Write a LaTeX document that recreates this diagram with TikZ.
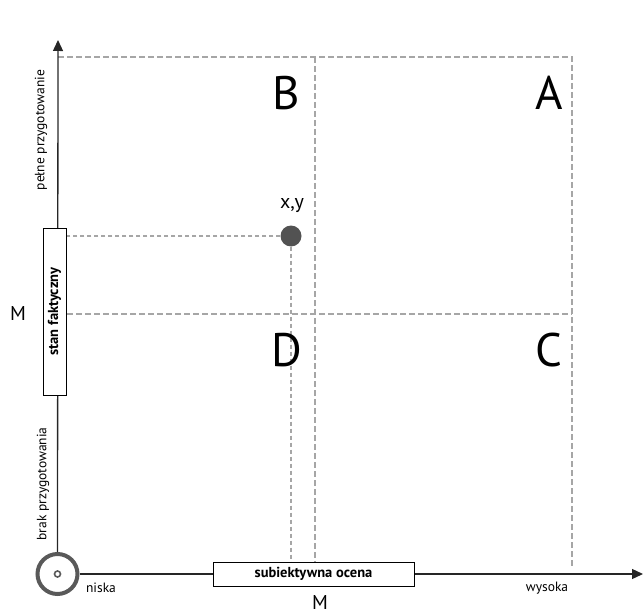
\documentclass[tikz,border=0pt]{standalone}
\usepackage{fontspec}
\setmainfont{PT Sans}
\usetikzlibrary{arrows.meta}
\begin{document}
\begin{tikzpicture}[x=1pt,y=-1pt,
  axis/.style={line width=1.3pt,draw=black!85,-{Triangle[length=11pt,width=10pt]}},
  grid/.style={draw=black!35,line width=1.4pt,dash pattern=on 6pt off 3pt},
  quad/.style={font=\fontsize{47}{50}\selectfont},
  small/.style={font=\fontsize{13.5}{15}\selectfont},
  boxlab/.style={draw=black,line width=1pt,fill=white,font=\fontsize{14.5}{16}\selectfont\bfseries,inner sep=0pt},
  mlab/.style={font=\fontsize{20}{22}\selectfont}]
\useasboundingbox (0,0) rectangle (643,615);
% grid
\coordinate (tl) at (58,57);
\coordinate (tr) at (572,57);
\coordinate (tm) at (315,57);
\coordinate (ml) at (58,314);
\coordinate (mr) at (572,314);
\coordinate (bm) at (315,566);
\coordinate (br) at (572,566);
\draw[grid] (tl) -- (tr) -- (br);
\draw[grid] (tm) -- (bm);
\draw[grid] (ml) -- (mr);
% point
\node[circle,fill=black!68,minimum size=21pt,inner sep=0pt] (pt) at (291,236) {};
\coordinate (ptl) at (66,236);
\coordinate (ptb) at (291,566);
\draw[grid,line width=1.2pt,dash pattern=on 4pt off 3pt] (pt) -- (ptl);
\draw[grid,line width=1.2pt,dash pattern=on 4pt off 3pt] (pt) -- (ptb);
\node[font=\fontsize{20}{22}\selectfont] (xy) at (292,206) {x,y};
% axes
\node[circle,draw=black!65,line width=4pt,minimum size=40pt,inner sep=0pt] (o) at (57.5,574) {};
\node[circle,draw=black!65,line width=1.6pt,minimum size=6pt,inner sep=0pt] (oi) at (57.5,574) {};
\coordinate (ytop) at (58,40);
\coordinate (xend) at (643,574);
\draw[axis] (o.north) -- (ytop);
\draw[axis] (o.east) -- (xend);
% boxes
\node[boxlab,rotate=90,minimum width=167pt,minimum height=23pt] (sf) at (54.5,311.5) {stan faktyczny};
\node[boxlab,minimum width=201pt,minimum height=24pt] (so) at (313.5,574) {subiektywna ocena};
% quadrant letters
\node[quad] (B) at (286,93) {B};
\node[quad] (A) at (549,93) {A};
\node[quad] (D) at (287,350) {D};
\node[quad] (C) at (549,350) {C};
% labels
\node[small,rotate=90] (pp) at (41,130) {pełne przygotowanie};
\node[small,rotate=90] (bp) at (43,484) {brak przygotowania};
\node[small] (ni) at (101,588) {niska};
\node[small] (wy) at (547,588) {wysoka};
\node[mlab] (mx) at (320,602) {M};
\node[mlab] (my) at (18,313) {M};
\end{tikzpicture}
\end{document}
